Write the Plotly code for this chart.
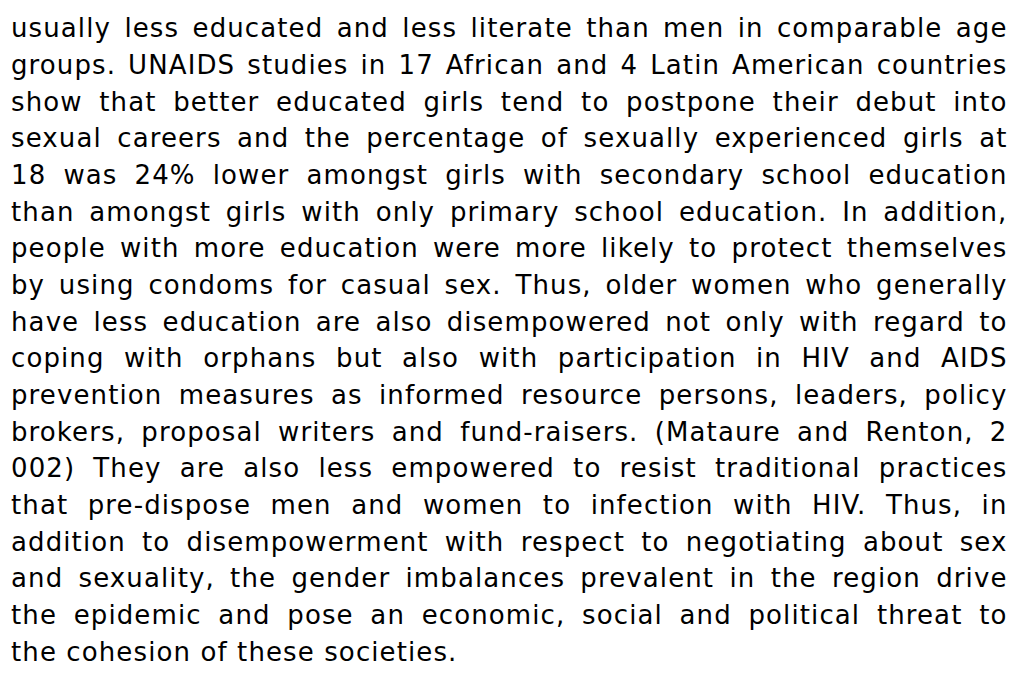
import plotly.graph_objects as go

# Paragraph text, one entry per rendered line (as in the reference)
lines = [
    "usually less educated and less literate than men in comparable age",
    "groups. UNAIDS studies in 17 African and 4 Latin American countries",
    "show that better educated girls tend to postpone their debut into",
    "sexual careers and the percentage of sexually experienced girls at",
    "18 was 24% lower amongst girls with secondary school education",
    "than amongst girls with only primary school education. In addition,",
    "people with more education were more likely to protect themselves",
    "by using condoms for casual sex. Thus, older women who generally",
    "have less education are also disempowered not only with regard to",
    "coping with orphans but also with participation in HIV and AIDS",
    "prevention measures as informed resource persons, leaders, policy",
    "brokers, proposal writers and fund-raisers. (Mataure and Renton, 2",
    "002) They are also less empowered to resist traditional practices",
    "that pre-dispose men and women to infection with HIV. Thus, in",
    "addition to disempowerment with respect to negotiating about sex",
    "and sexuality, the gender imbalances prevalent in the region drive",
    "the epidemic and pose an economic, social and political threat to",
    "the cohesion of these societies.",
]

W, H = 1011, 674
FONT_FAMILY = "DejaVu Sans, Verdana, sans-serif"
FONT_SIZE = 26
LEFT_PX = 10.5
RIGHT_PX = 1007.0
LAST_LINE_RIGHT_PX = 457.0
FIRST_BASELINE = 37.3
LINE_STEP = 36.67
BASELINE_TO_CENTER = 0.346 * FONT_SIZE

annotations = []
for i, line in enumerate(lines):
    baseline = FIRST_BASELINE + i * LINE_STEP
    yc = baseline - BASELINE_TO_CENTER
    annotations.append(dict(
        text=line, xref="paper", yref="paper",
        x=LEFT_PX / W, y=1 - yc / H,
        xanchor="left", yanchor="middle", align="left",
        showarrow=False, borderpad=0, borderwidth=0,
        font=dict(family=FONT_FAMILY, size=FONT_SIZE, color="#000000"),
    ))

fig = go.Figure()
fig.update_layout(
    width=W, height=H,
    margin=dict(l=0, r=0, t=0, b=0),
    paper_bgcolor="white", plot_bgcolor="white",
    xaxis=dict(visible=False, range=[0, 1]),
    yaxis=dict(visible=False, range=[0, 1]),
    showlegend=False,
    annotations=annotations,
)

n_justify = len(lines) - 1
post = """
(function(){
  document.body.style.margin = '0';
  document.body.style.padding = '0';
  document.body.style.overflow = 'hidden';
  var gd = document.getElementById('{plot_id}');
  var target = TARGET;
  var lastTarget = LASTTARGET;
  function justify(){
    var groups = gd.querySelectorAll('g.annotation');
    var texts = {};
    groups.forEach(function(g){
      var idx = parseInt(g.getAttribute('data-index'));
      var t = g.querySelector('text.annotation-text');
      if (!isNaN(idx) && t) texts[idx] = t;
    });
    var last = texts[NJUST];
    var ls = 0;
    if (last) {
      last.style.letterSpacing = '0px';
      last.style.wordSpacing = '0px';
      var w0 = last.getComputedTextLength();
      var nc = last.textContent.length;
      ls = (lastTarget - w0) / nc;
      last.style.letterSpacing = ls + 'px';
    }
    Object.keys(texts).forEach(function(k){
      var idx = parseInt(k);
      if (idx >= NJUST) return;
      var t = texts[idx];
      t.style.letterSpacing = ls + 'px';
      t.style.wordSpacing = '0px';
      var w = t.getComputedTextLength();
      var n = (t.textContent.match(/ /g) || []).length;
      if (n > 0) t.style.wordSpacing = ((target - w) / n) + 'px';
    });
  }
  justify();
  if (gd.on) gd.on('plotly_afterplot', justify);
  setTimeout(justify, 50);
  setTimeout(justify, 300);
})();
""".replace("LASTTARGET", str(LAST_LINE_RIGHT_PX - LEFT_PX)) \
   .replace("TARGET", str(RIGHT_PX - LEFT_PX)) \
   .replace("NJUST", str(n_justify))

fig.write_html("out.html", config={"displayModeBar": False, "responsive": False},
               post_script=post)
